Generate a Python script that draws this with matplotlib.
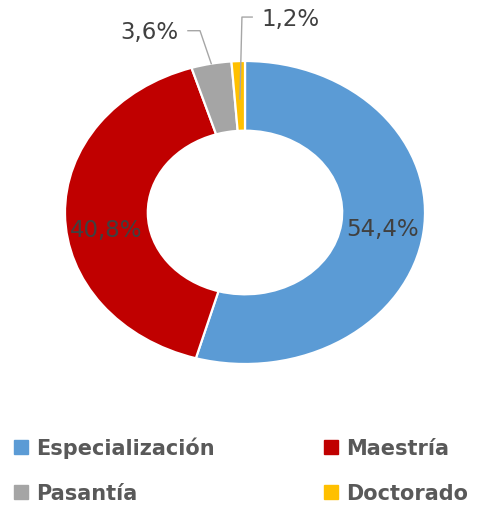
import numpy as np
import matplotlib
matplotlib.use('Agg')
import matplotlib.pyplot as plt
from matplotlib.lines import Line2D

# Data
categories = ['Especialización', 'Maestría', 'Pasantía', 'Doctorado']
shares = [54.4, 40.8, 3.6, 1.2]
labels = ['54,4%', '40,8%', '3,6%', '1,2%']
colors = ['#5B9BD5', '#C00000', '#A5A5A5', '#FFC000']

text_color = '#404040'

fig = plt.figure(figsize=(4.9, 5.06), dpi=100)
# ring is drawn slightly wider than tall, like the original
ax = fig.add_axes([65 / 490, 141 / 506, 360 / 490, 303 / 506])

wedges, _ = ax.pie(shares, colors=colors, startangle=90, counterclock=False,
                   radius=1.0, wedgeprops=dict(width=0.46, edgecolor='white', linewidth=1.6))
ax.set_aspect('auto')
ax.set_xlim(-1, 1)
ax.set_ylim(-1, 1)
ax.axis('off')

# inside labels for the two big slices (small vertical nudge per label)
nudges = [0.0, -0.1]
for w, lab, dy in zip(wedges[:2], labels[:2], nudges):
    mid = np.deg2rad((w.theta1 + w.theta2) / 2)
    ax.text(0.77 * np.cos(mid), 0.77 * np.sin(mid) + dy, lab, ha='center', va='center',
            fontsize=16.5, color=text_color)

# outside labels with leader lines for the small slices
# (text position, elbow, line start, radius where the line ends)
outside = [((-0.53, 1.195), (-0.25, 1.20), (-0.317, 1.20), 1.0),
           ((0.255, 1.28), (-0.017, 1.29), (0.04, 1.29), 0.75)]
for w, lab, (txt, elbow, start, r_end) in zip(wedges[2:], labels[2:], outside):
    mid = np.deg2rad((w.theta1 + w.theta2) / 2)
    end = (r_end * np.cos(mid), r_end * np.sin(mid))
    ax.plot([start[0], elbow[0], end[0]], [start[1], elbow[1], end[1]],
            color='#A6A6A6', lw=1.0, clip_on=False)
    ax.text(txt[0], txt[1], lab, ha='center', va='center', fontsize=16.5, color=text_color)

# legend filled row by row: Especialización, Maestría / Pasantía, Doctorado
order = [0, 2, 1, 3]
handles = [Line2D([], [], marker='s', linestyle='none', markersize=9.5,
                  markerfacecolor=colors[i], markeredgecolor=colors[i]) for i in order]
fig.legend(handles, [categories[i] for i in order], ncol=2, loc='upper left',
           bbox_to_anchor=(-0.012, 0.172), frameon=False, handlelength=0.8,
           handletextpad=0.3, columnspacing=5.2, labelspacing=1.2,
           prop=dict(size=15, weight='bold'), labelcolor='#595959')

fig.savefig('out.png', dpi=100)
